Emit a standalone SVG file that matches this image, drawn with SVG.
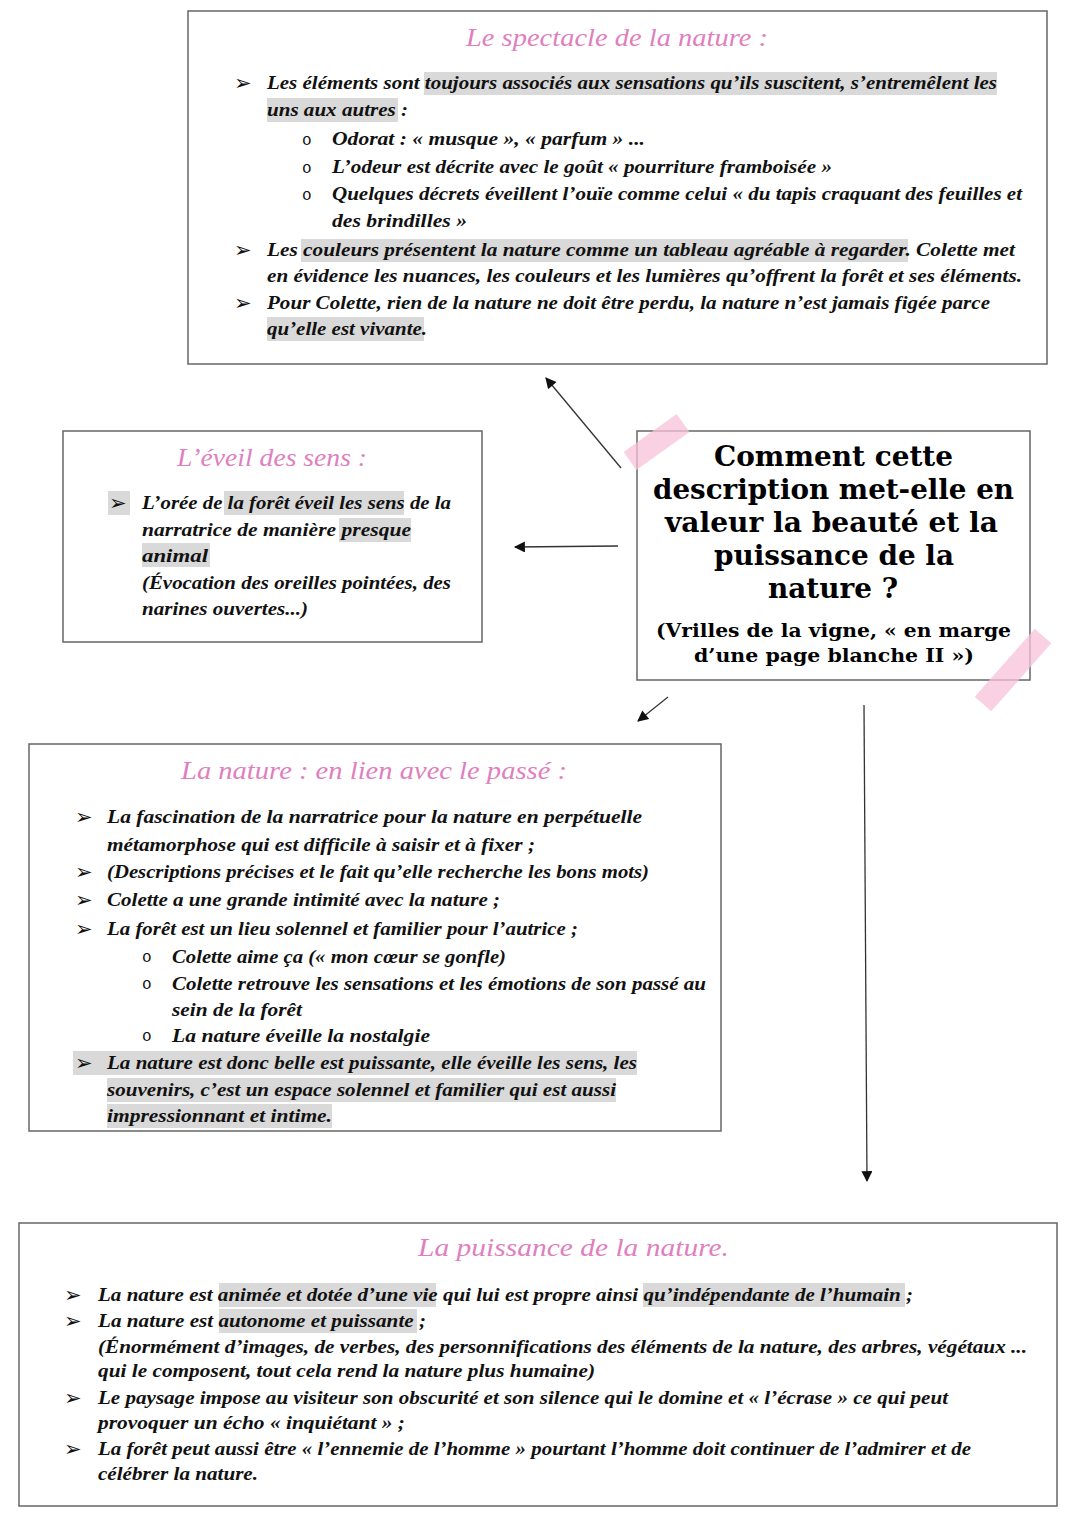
<svg xmlns="http://www.w3.org/2000/svg" width="1080" height="1527" viewBox="0 0 1080 1527">
<style>
.box{fill:#fff;stroke:#666;stroke-width:1.5}
.t{font-family:"Liberation Serif",serif;font-style:italic;font-weight:bold;font-size:19px;fill:#111}
.h{font-family:"Liberation Serif",serif;font-style:italic;font-size:26px;fill:#e07fc0}
.hl{fill:#d9d9d9}
.bul{font-family:"DejaVu Sans",sans-serif;font-size:21px;fill:#111}
.o{font-family:"Liberation Mono",monospace;font-size:16px;fill:#111}
.q{font-family:"DejaVu Serif",serif;font-weight:bold;font-size:28px;fill:#000}
.qs{font-family:"DejaVu Serif",serif;font-weight:bold;font-size:19px;fill:#000}
.pink{stroke:#f7c2da;stroke-width:22;stroke-linecap:butt;opacity:0.75;fill:none}
.con{stroke:#333;stroke-width:1.3;fill:none}
</style>
<defs>
<marker id="ah" viewBox="0 0 10 10" refX="9" refY="5" markerUnits="userSpaceOnUse" markerWidth="13" markerHeight="11" orient="auto">
<path d="M0,0 L10,5 L0,10 z" fill="#111"/>
</marker>
</defs>
<rect width="1080" height="1527" fill="#fff"/>

<g id="node-spectacle">
<rect class="box" x="188" y="11" width="859" height="353"/>
<rect class="hl" x="424" y="72" width="573" height="23"/>
<rect class="hl" x="267" y="98" width="131" height="24"/>
<rect class="hl" x="301" y="239" width="607" height="23"/>
<rect class="hl" x="267" y="317" width="157" height="24"/>
<text class="h" x="466" y="46" textLength="302" lengthAdjust="spacingAndGlyphs">Le spectacle de la nature :</text>
<text class="bul" x="234" y="90">➢</text>
<text class="t" x="267" y="89" textLength="730" lengthAdjust="spacingAndGlyphs">Les éléments sont toujours associés aux sensations qu’ils suscitent, s’entremêlent les</text>
<text class="t" x="267" y="116" textLength="141" lengthAdjust="spacingAndGlyphs">uns aux autres :</text>
<text class="o" x="302" y="145">o</text>
<text class="t" x="332" y="145" textLength="313" lengthAdjust="spacingAndGlyphs">Odorat : « musque », « parfum » ...</text>
<text class="o" x="302" y="173">o</text>
<text class="t" x="332" y="173" textLength="500" lengthAdjust="spacingAndGlyphs">L’odeur est décrite avec le goût « pourriture framboisée »</text>
<text class="o" x="302" y="200">o</text>
<text class="t" x="332" y="200" textLength="690" lengthAdjust="spacingAndGlyphs">Quelques décrets éveillent l’ouïe comme celui « du tapis craquant des feuilles et</text>
<text class="t" x="332" y="227" textLength="135" lengthAdjust="spacingAndGlyphs">des brindilles »</text>
<text class="bul" x="234" y="257">➢</text>
<text class="t" x="267" y="256" textLength="748" lengthAdjust="spacingAndGlyphs">Les couleurs présentent la nature comme un tableau agréable à regarder. Colette met</text>
<text class="t" x="267" y="282" textLength="755" lengthAdjust="spacingAndGlyphs">en évidence les nuances, les couleurs et les lumières qu’offrent la forêt et ses éléments.</text>
<text class="bul" x="234" y="310">➢</text>
<text class="t" x="267" y="309" textLength="723" lengthAdjust="spacingAndGlyphs">Pour Colette, rien de la nature ne doit être perdu, la nature n’est jamais figée parce</text>
<text class="t" x="267" y="335" textLength="160" lengthAdjust="spacingAndGlyphs">qu’elle est vivante.</text>
</g>

<g id="node-eveil">
<rect class="box" x="63" y="431" width="419" height="211"/>
<rect class="hl" x="108" y="491" width="22" height="24"/>
<rect class="hl" x="224" y="491" width="180" height="24"/>
<rect class="hl" x="339" y="518" width="72" height="24"/>
<rect class="hl" x="142" y="543" width="68" height="24"/>
<text class="h" x="177" y="466" textLength="190" lengthAdjust="spacingAndGlyphs">L’éveil des sens :</text>
<text class="bul" x="109" y="510">➢</text>
<text class="t" x="142" y="509" textLength="309" lengthAdjust="spacingAndGlyphs">L’orée de la forêt éveil les sens de la</text>
<text class="t" x="142" y="536" textLength="269" lengthAdjust="spacingAndGlyphs">narratrice de manière presque</text>
<text class="t" x="142" y="562" textLength="66" lengthAdjust="spacingAndGlyphs">animal</text>
<text class="t" x="142" y="589" textLength="309" lengthAdjust="spacingAndGlyphs">(Évocation des oreilles pointées, des</text>
<text class="t" x="142" y="615" textLength="166" lengthAdjust="spacingAndGlyphs">narines ouvertes...)</text>
</g>

<g id="node-question">
<rect class="box" x="637" y="431" width="393" height="249"/>
<text class="q" x="714" y="466" textLength="239" lengthAdjust="spacingAndGlyphs">Comment cette</text>
<text class="q" x="653" y="499" textLength="361" lengthAdjust="spacingAndGlyphs">description met-elle en</text>
<text class="q" x="665" y="532" textLength="333" lengthAdjust="spacingAndGlyphs">valeur la beauté et la</text>
<text class="q" x="714" y="565" textLength="240" lengthAdjust="spacingAndGlyphs">puissance de la</text>
<text class="q" x="768" y="598" textLength="130" lengthAdjust="spacingAndGlyphs">nature ?</text>
<text class="qs" x="656" y="637" textLength="355" lengthAdjust="spacingAndGlyphs">(Vrilles de la vigne, « en marge</text>
<text class="qs" x="694" y="662" textLength="280" lengthAdjust="spacingAndGlyphs">d’une page blanche II »)</text>
<line class="pink" x1="630" y1="461" x2="683" y2="423"/>
<line class="pink" x1="983" y1="704" x2="1043" y2="636"/>
</g>

<g id="node-passe">
<rect class="box" x="29" y="744" width="692" height="387"/>
<rect class="hl" x="73" y="1051" width="564" height="24"/>
<rect class="hl" x="107" y="1078" width="509" height="24"/>
<rect class="hl" x="107" y="1104" width="225" height="24"/>
<text class="h" x="181" y="779" textLength="386" lengthAdjust="spacingAndGlyphs">La nature : en lien avec le passé :</text>
<text class="bul" x="75" y="824">➢</text>
<text class="t" x="107" y="823" textLength="535" lengthAdjust="spacingAndGlyphs">La fascination de la narratrice pour la nature en perpétuelle</text>
<text class="t" x="107" y="851" textLength="428" lengthAdjust="spacingAndGlyphs">métamorphose qui est difficile à saisir et à fixer ;</text>
<text class="bul" x="75" y="879">➢</text>
<text class="t" x="107" y="878" textLength="542" lengthAdjust="spacingAndGlyphs">(Descriptions précises et le fait qu’elle recherche les bons mots)</text>
<text class="bul" x="75" y="907">➢</text>
<text class="t" x="107" y="906" textLength="393" lengthAdjust="spacingAndGlyphs">Colette a une grande intimité avec la nature ;</text>
<text class="bul" x="75" y="936">➢</text>
<text class="t" x="107" y="935" textLength="471" lengthAdjust="spacingAndGlyphs">La forêt est un lieu solennel et familier pour l’autrice ;</text>
<text class="o" x="142" y="962">o</text>
<text class="t" x="172" y="963" textLength="334" lengthAdjust="spacingAndGlyphs">Colette aime ça (« mon cœur se gonfle)</text>
<text class="o" x="142" y="989">o</text>
<text class="t" x="172" y="990" textLength="534" lengthAdjust="spacingAndGlyphs">Colette retrouve les sensations et les émotions de son passé au</text>
<text class="t" x="172" y="1016" textLength="130" lengthAdjust="spacingAndGlyphs">sein de la forêt</text>
<text class="o" x="142" y="1041">o</text>
<text class="t" x="172" y="1042" textLength="258" lengthAdjust="spacingAndGlyphs">La nature éveille la nostalgie</text>
<text class="bul" x="75" y="1070">➢</text>
<text class="t" x="107" y="1069" textLength="530" lengthAdjust="spacingAndGlyphs">La nature est donc belle est puissante, elle éveille les sens, les</text>
<text class="t" x="107" y="1096" textLength="509" lengthAdjust="spacingAndGlyphs">souvenirs, c’est un espace solennel et familier qui est aussi</text>
<text class="t" x="107" y="1122" textLength="225" lengthAdjust="spacingAndGlyphs">impressionnant et intime.</text>
</g>

<g id="node-puissance">
<rect class="box" x="19" y="1223" width="1038" height="283"/>
<rect class="hl" x="219" y="1283" width="217" height="24"/>
<rect class="hl" x="643" y="1283" width="262" height="24"/>
<rect class="hl" x="219" y="1309" width="198" height="24"/>
<text class="h" x="418" y="1256" textLength="311" lengthAdjust="spacingAndGlyphs">La puissance de la nature.</text>
<text class="bul" x="64" y="1302">➢</text>
<text class="t" x="98" y="1301" textLength="815" lengthAdjust="spacingAndGlyphs">La nature est animée et dotée d’une vie qui lui est propre ainsi qu’indépendante de l’humain ;</text>
<text class="bul" x="64" y="1328">➢</text>
<text class="t" x="98" y="1327" textLength="328" lengthAdjust="spacingAndGlyphs">La nature est autonome et puissante ;</text>
<text class="t" x="98" y="1353" textLength="929" lengthAdjust="spacingAndGlyphs">(Énormément d’images, de verbes, des personnifications des éléments de la nature, des arbres, végétaux ...</text>
<text class="t" x="98" y="1377" textLength="497" lengthAdjust="spacingAndGlyphs">qui le composent, tout cela rend la nature plus humaine)</text>
<text class="bul" x="64" y="1405">➢</text>
<text class="t" x="98" y="1404" textLength="850" lengthAdjust="spacingAndGlyphs">Le paysage impose au visiteur son obscurité et son silence qui le domine et « l’écrase » ce qui peut</text>
<text class="t" x="98" y="1429" textLength="307" lengthAdjust="spacingAndGlyphs">provoquer un écho « inquiétant » ;</text>
<text class="bul" x="64" y="1456">➢</text>
<text class="t" x="98" y="1455" textLength="873" lengthAdjust="spacingAndGlyphs">La forêt peut aussi être « l’ennemie de l’homme » pourtant l’homme doit continuer de l’admirer et de</text>
<text class="t" x="98" y="1480" textLength="160" lengthAdjust="spacingAndGlyphs">célébrer la nature.</text>
</g>

<g id="connectors">
<line class="con" x1="621" y1="468" x2="546" y2="378" marker-end="url(#ah)"/>
<line class="con" x1="618" y1="546" x2="515" y2="547" marker-end="url(#ah)"/>
<line class="con" x1="668" y1="697" x2="638" y2="721" marker-end="url(#ah)"/>
<line class="con" x1="864" y1="705" x2="867" y2="1181" marker-end="url(#ah)"/>
</g>
</svg>
